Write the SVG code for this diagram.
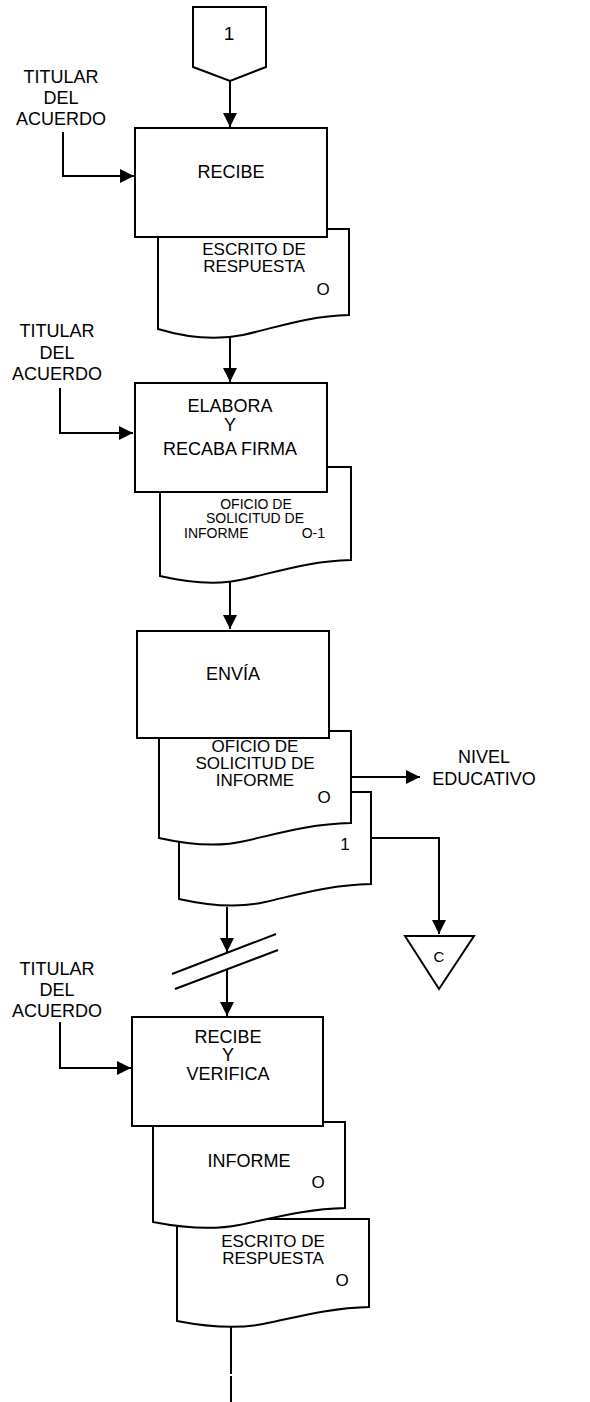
<svg xmlns="http://www.w3.org/2000/svg" width="590" height="1402" viewBox="0 0 590 1402">
<style>
.s{fill:#fff;stroke:#000;stroke-width:2}
.l{fill:none;stroke:#000;stroke-width:2}
text{font-family:"Liberation Sans",Arial,sans-serif;fill:#000}
.t{font-size:18px;text-anchor:middle}
.d{font-size:17px;text-anchor:middle}
.m{font-size:15px;text-anchor:middle}
.n{font-size:14px;text-anchor:middle}
</style>
<defs>
<marker id="a" viewBox="0 0 10 10" refX="10" refY="5" markerWidth="15" markerHeight="14" markerUnits="userSpaceOnUse" orient="auto"><path d="M0,0L10,5L0,10z" fill="#000"/></marker>
</defs>
<g id="connectors">
<path class="l" d="M230,81V127" marker-end="url(#a)"/>
<path class="l" d="M63,132V176H134" marker-end="url(#a)"/>
<path class="l" d="M230,337V382" marker-end="url(#a)"/>
<path class="l" d="M60,388V433H133" marker-end="url(#a)"/>
<path class="l" d="M230,582V629" marker-end="url(#a)"/>
<path class="l" d="M351,777H420" marker-end="url(#a)"/>
<path class="l" d="M371,838H439V934" marker-end="url(#a)"/>
<path class="l" d="M227,907V952" marker-end="url(#a)"/>
<path class="l" d="M172,974L276,934M175,989L278,950"/>
<path class="l" d="M227,970V1016" marker-end="url(#a)"/>
<path class="l" d="M60,1022V1068H131" marker-end="url(#a)"/>
<path class="l" d="M231,1327V1374M231,1376V1402"/>
</g>
<g id="conn1">
<path class="s" d="M193,7H266V67L230,81L193,67Z"/>
<text class="t" x="229" y="40" style="font-size:19px">1</text>
</g>
<g id="titular1">
<text class="t" x="61" y="83">TITULAR</text>
<text class="t" x="61" y="104">DEL</text>
<text class="t" x="61" y="125">ACUERDO</text>
</g>
<g id="doc1">
<path class="s" d="M158,229H349V315C308,316 278,327 243,335C218,340 188,338 158,329Z"/>
<text class="d" x="254" y="255">ESCRITO DE</text>
<text class="d" x="254" y="272">RESPUESTA</text>
<text class="d" x="323" y="295">O</text>
</g>
<g id="box1">
<rect class="s" x="135" y="128" width="192" height="109"/>
<text class="t" x="231" y="178">RECIBE</text>
</g>
<g id="titular2">
<text class="t" x="57" y="337">TITULAR</text>
<text class="t" x="57" y="359">DEL</text>
<text class="t" x="57" y="380">ACUERDO</text>
</g>
<g id="doc2">
<path class="s" d="M160,467H351V560C310,561 280,571 245,579C220,585 190,583 160,576Z"/>
<text class="n" x="256" y="509">OFICIO DE</text>
<text class="n" x="255" y="523">SOLICITUD DE</text>
<text class="n" x="184" y="538" style="text-anchor:start">INFORME</text>
<text class="n" x="325" y="538" style="text-anchor:end">O-1</text>
</g>
<g id="box2">
<rect class="s" x="135" y="383" width="192" height="109"/>
<text class="t" x="230" y="412">ELABORA</text>
<text class="t" x="230" y="431">Y</text>
<text class="t" x="230" y="455">RECABA FIRMA</text>
</g>
<g id="doc3b">
<path class="s" d="M179,792H371V884C330,885 300,894 265,902C240,908 210,906 179,899Z"/>
<text class="d" x="345" y="850">1</text>
</g>
<g id="doc3a">
<path class="s" d="M159,731H351V823C310,824 280,833 245,841C220,847 190,845 159,838Z"/>
<text class="d" x="255" y="752">OFICIO DE</text>
<text class="d" x="255" y="769">SOLICITUD DE</text>
<text class="d" x="255" y="786">INFORME</text>
<text class="d" x="324" y="803">O</text>
</g>
<g id="box3">
<rect class="s" x="137" y="631" width="192" height="107"/>
<text class="t" x="233" y="680">ENVÍA</text>
</g>
<g id="nivel">
<text class="t" x="484" y="763">NIVEL</text>
<text class="t" x="484" y="785">EDUCATIVO</text>
</g>
<g id="connC">
<path class="s" d="M405,936H474L439,989Z"/>
<text class="m" x="439" y="962">C</text>
</g>
<g id="titular3">
<text class="t" x="57" y="975">TITULAR</text>
<text class="t" x="57" y="996">DEL</text>
<text class="t" x="57" y="1017">ACUERDO</text>
</g>
<g id="doc4b">
<path class="s" d="M177,1219H369V1307C328,1308 298,1317 263,1324C238,1329 208,1327 177,1321Z"/>
<text class="d" x="273" y="1247">ESCRITO DE</text>
<text class="d" x="273" y="1264">RESPUESTA</text>
<text class="d" x="342" y="1286">O</text>
</g>
<g id="doc4a">
<path class="s" d="M153,1122H345V1208C304,1209 274,1218 239,1225C214,1230 184,1228 153,1222Z"/>
<text class="t" x="249" y="1167">INFORME</text>
<text class="d" x="318" y="1188">O</text>
</g>
<g id="box4">
<rect class="s" x="132" y="1017" width="191" height="109"/>
<text class="t" x="228" y="1043">RECIBE</text>
<text class="t" x="228" y="1061">Y</text>
<text class="t" x="228" y="1080">VERIFICA</text>
</g>
</svg>
